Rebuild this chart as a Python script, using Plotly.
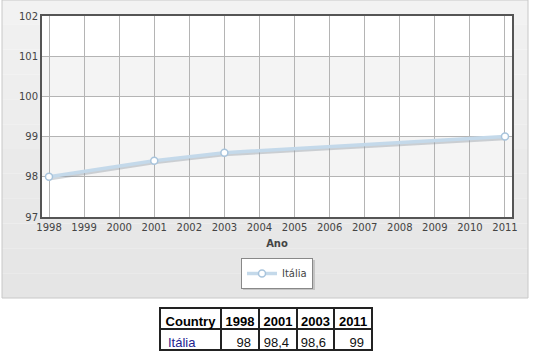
import plotly.graph_objects as go

W, H = 536, 357

years = [1998, 2001, 2003, 2011]
values = [98, 98.4, 98.6, 99]
value_labels = ["98", "98,4", "98,6", "99"]
series_name = "Itália"
header_first = "Country"
x_ticks = list(range(1998, 2012))
y_ticks = [97, 98, 99, 100, 101, 102]
band_ranges = [(98, 99), (100, 101)]

def px_x(v):
    return v / W

def px_y(v):
    return 1 - v / H

fig = go.Figure()

# shadow under line
fig.add_trace(go.Scatter(
    x=years, y=[v - 0.04 for v in values], mode="lines",
    line=dict(color="rgba(140,150,160,0.4)", width=4),
    hoverinfo="skip", showlegend=False))

fig.add_trace(go.Scatter(
    x=years, y=values, mode="lines+markers", name=series_name,
    line=dict(color="#c4d9ea", width=3.5),
    marker=dict(symbol="circle", size=7, color="white",
                line=dict(color="#a8c4dc", width=1.5))))

# table
fig.add_trace(go.Table(
    domain=dict(x=[px_x(160), px_x(372)], y=[0, px_y(308)]),
    columnwidth=[61, 38, 38, 37, 38],
    header=dict(
        values=[header_first] + [str(y) for y in years],
        align="center", height=21,
        font=dict(family="Liberation Sans, Arial", size=13, color="black",
                  weight="bold"),
        fill_color="white", line=dict(color="#222", width=1.5)),
    cells=dict(
        values=[[series_name]] + [[lab] for lab in value_labels],
        align=["left", "right", "right", "right", "right"], height=21,
        font=dict(family="Liberation Sans, Arial", size=13,
                  color=[["#23238f"], ["#111"], ["#111"], ["#111"], ["#111"]]),
        fill_color="white", line=dict(color="#222", width=1.5)),
))

shapes = []
# gray panel with gradient bands
n = 12
top, bot = 0, 298
for i in range(n):
    y0 = top + (bot - top) * i / n
    y1 = top + (bot - top) * (i + 1) / n
    c = int(242 - (242 - 229) * i / (n - 1))
    shapes.append(dict(type="rect", xref="paper", yref="paper",
                       x0=px_x(2), x1=px_x(528), y0=px_y(y1), y1=px_y(y0),
                       fillcolor="rgb(%d,%d,%d)" % (c, c, c), line=dict(width=0),
                       layer="below"))
shapes.append(dict(type="rect", xref="paper", yref="paper",
                   x0=px_x(2), x1=px_x(528), y0=px_y(298), y1=px_y(0),
                   fillcolor="rgba(0,0,0,0)", line=dict(color="#c8c8c8", width=1),
                   layer="below"))
# plot bg
shapes.append(dict(type="rect", xref="x domain", yref="y domain",
                   x0=0, x1=1, y0=0, y1=1, fillcolor="white",
                   line=dict(width=0), layer="below"))
for a, b in band_ranges:
    shapes.append(dict(type="rect", xref="x domain", yref="y",
                       x0=0, x1=1, y0=a, y1=b, fillcolor="#f4f4f4",
                       line=dict(width=0), layer="below"))
# legend shadow
shapes.append(dict(type="rect", xref="paper", yref="paper",
                   x0=px_x(243), x1=px_x(315), y0=px_y(290), y1=px_y(260),
                   fillcolor="#c4c4c4", line=dict(width=0), layer="above"))

fig.update_layout(
    width=W, height=H,
    margin=dict(l=0, r=0, t=0, b=0, autoexpand=False),
    paper_bgcolor="white",
    plot_bgcolor="rgba(0,0,0,0)",
    font=dict(family="DejaVu Sans", size=10, color="#444"),
    shapes=shapes,
    showlegend=True,
    legend=dict(x=px_x(277), xanchor="center", y=px_y(258), yanchor="top",
                bgcolor="white", bordercolor="#888", borderwidth=1,
                font=dict(family="DejaVu Sans", size=10, color="#444"),
                itemwidth=30),
    xaxis=dict(domain=[px_x(42), px_x(512)], range=[1997.8, 2011.2],
               tickmode="array", tickvals=x_ticks,
               ticktext=[str(t) for t in x_ticks],
               showgrid=True, gridcolor="#b4b4b4", gridwidth=1,
               showline=True, linecolor="#555", linewidth=2, mirror=True,
               zeroline=False, ticks="",
               title=dict(text="<b>Ano</b>", standoff=8,
                          font=dict(family="DejaVu Sans", size=10, color="#444"))),
    yaxis=dict(domain=[px_y(217), px_y(16)], range=[97, 102],
               tickmode="array", tickvals=y_ticks,
               showgrid=True, gridcolor="#b4b4b4", gridwidth=1,
               showline=True, linecolor="#555", linewidth=2, mirror=True,
               zeroline=False, ticks=""),
)

fig.write_html("out.html")
